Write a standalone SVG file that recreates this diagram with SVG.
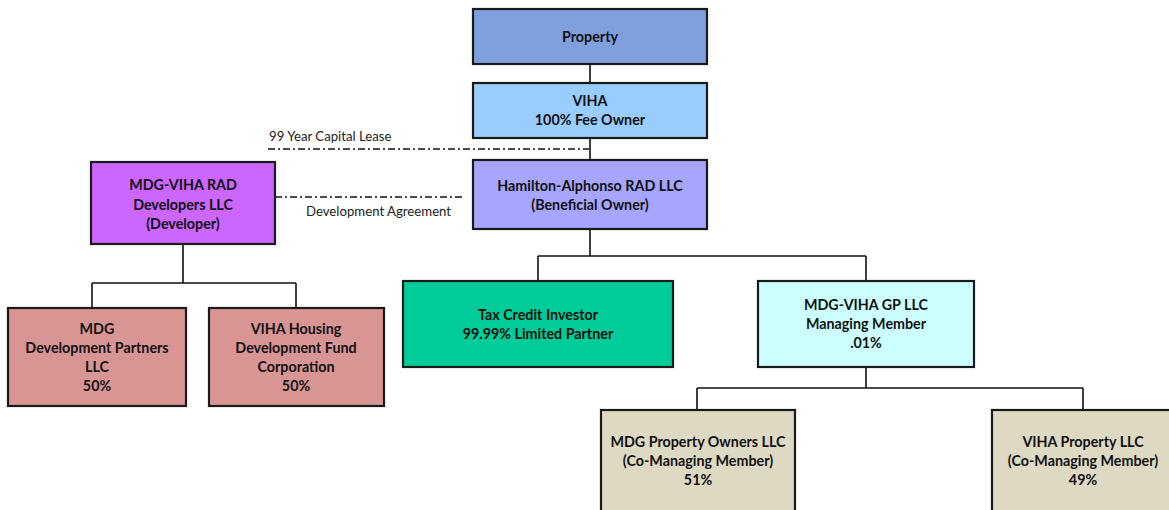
<svg xmlns="http://www.w3.org/2000/svg" width="1169" height="510" viewBox="0 0 1169 510">
<style>
.box{stroke:#1a1a1a;stroke-width:2.2}
.t{font-family:Lato,"Open Sans",sans-serif;font-weight:bold;font-size:14.3px;fill:#111;text-anchor:middle}
.lbl{font-family:Lato,"Open Sans",sans-serif;font-size:13.2px;fill:#222}
.c{stroke:#111;stroke-width:1.6;fill:none}
.d{stroke:#111;stroke-width:1.6;fill:none;stroke-dasharray:7 3 2 3}
</style>
<rect width="1169" height="510" fill="#fff"/>
<g id="connectors">
<path class="c" d="M590 64V83M590 138V160M590 229V256M538 256H866M538 256V281M866 256V281"/>
<path class="c" d="M183 244V283M92 283H296M92 283V308M296 283V308"/>
<path class="c" d="M866 367V388M697 388H1083M697 388V410M1083 388V410"/>
<path class="d" d="M268 149H589"/>
<path class="d" d="M275 197H462"/>
</g>
<g id="label-lease"><text class="lbl" x="269" y="141">99 Year Capital  Lease</text></g>
<g id="label-dev"><text class="lbl" x="306" y="216">Development Agreement</text></g>
<g id="property"><rect class="box" x="473" y="9" width="234" height="55" fill="#7F9FDF"/>
<text class="t" x="590" y="42">Property</text></g>
<g id="viha"><rect class="box" x="473" y="83" width="234" height="55" fill="#99CCFF"/>
<text class="t" x="590" y="106">VIHA</text><text class="t" x="590" y="125">100% Fee Owner</text></g>
<g id="hamilton"><rect class="box" x="473" y="160" width="234" height="69" fill="#A6A6FF"/>
<text class="t" x="590" y="191">Hamilton-Alphonso RAD LLC</text><text class="t" x="590" y="210">(Beneficial Owner)</text></g>
<g id="developer"><rect class="box" x="91" y="162" width="184" height="82" fill="#CC66FF"/>
<text class="t" x="183" y="190">MDG-VIHA RAD</text><text class="t" x="183" y="210">Developers LLC</text><text class="t" x="183" y="229">(Developer)</text></g>
<g id="mdg-dev"><rect class="box" x="8" y="308" width="178" height="98" fill="#D99594"/>
<text class="t" x="97" y="334">MDG</text><text class="t" x="97" y="353">Development Partners</text><text class="t" x="97" y="372">LLC</text><text class="t" x="97" y="391">50%</text></g>
<g id="viha-hdfc"><rect class="box" x="209" y="308" width="175" height="98" fill="#D99594"/>
<text class="t" x="296" y="334">VIHA Housing</text><text class="t" x="296" y="353">Development Fund</text><text class="t" x="296" y="372">Corporation</text><text class="t" x="296" y="391">50%</text></g>
<g id="tax-credit"><rect class="box" x="403" y="281" width="270" height="86" fill="#00CC99"/>
<text class="t" x="538" y="320">Tax Credit Investor</text><text class="t" x="538" y="339">99.99% Limited Partner</text></g>
<g id="gp"><rect class="box" x="758" y="281" width="216" height="86" fill="#CCFFFF"/>
<text class="t" x="866" y="310">MDG-VIHA GP LLC</text><text class="t" x="866" y="329">Managing Member</text><text class="t" x="866" y="348">.01%</text></g>
<g id="mdg-owners"><rect class="box" x="601" y="410" width="194" height="110" fill="#DDD9C3"/>
<text class="t" x="698" y="447">MDG Property Owners LLC</text><text class="t" x="698" y="466">(Co-Managing Member)</text><text class="t" x="698" y="485">51%</text></g>
<g id="viha-property"><rect class="box" x="992" y="410" width="190" height="110" fill="#DDD9C3"/>
<text class="t" x="1083" y="447">VIHA Property LLC</text><text class="t" x="1083" y="466">(Co-Managing Member)</text><text class="t" x="1083" y="485">49%</text></g>
</svg>
